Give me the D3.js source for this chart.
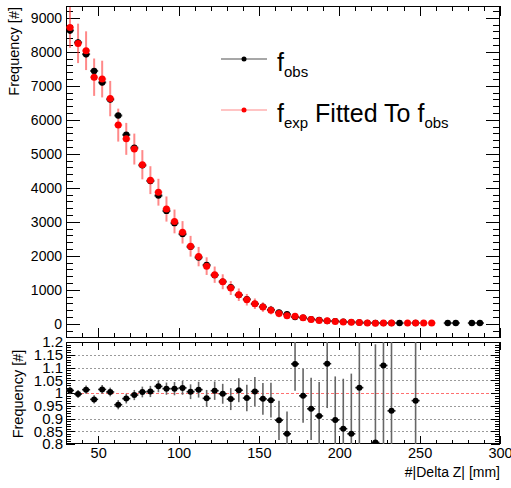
<!DOCTYPE html>
<html>
<head>
<meta charset="utf-8">
<script src="https://d3js.org/d3.v7.min.js"></script>
<style>
  body { margin: 0px; background: #fff; }
  svg { font-family: "Liberation Sans", Arial, Helvetica, sans-serif; }
</style>
</head>
<body>
<svg id="viz" width="511" height="488"></svg>
<script>
// 5 mm bins of |Delta Z|, starting at 30 mm
const binCenters = [32.5, 37.5, 42.5, 47.5, 52.5, 57.5, 62.5, 67.5, 72.5, 77.5,
  82.5, 87.5, 92.5, 97.5, 102.5, 107.5, 112.5, 117.5, 122.5, 127.5,
  132.5, 137.5, 142.5, 147.5, 152.5, 157.5, 162.5, 167.5, 172.5, 177.5,
  182.5, 187.5, 192.5, 197.5, 202.5, 207.5, 212.5, 217.5, 222.5, 227.5,
  232.5, 237.5, 242.5, 247.5, 252.5, 257.5, 262.5, 267.5, 272.5, 277.5,
  282.5, 287.5];

// f_obs (black)
const obs = [8630, 8280, 7930, 7440, 7100, 6600, 6127, 5560, 5180, 4660,
  4200, 3770, 3320, 2960, 2637, 2265, 1950, 1730, 1430, 1240,
  1075, 845, 720, 585, 500, 410, 335, 280, 195, 178,
  135, 108, 79, 77, 57, 48, 36, 26, 21, 18,
  22, 20, null, 21, null, null, null, 20, 20, null,
  20, 20];
const obsErr = [93, 91, 89, 86, 84, 81, 78, 75, 72, 68,
  65, 61, 58, 54, 51, 48, 44, 42, 38, 35,
  33, 29, 27, 24, 22, 20, 18, 17, 14, 13,
  12, 10, 9, 9, 8, 7, 6, 5, 5, 4,
  5, 4, 0, 5, 0, 0, 0, 4, 4, 0,
  4, 4];

// f_exp fitted to f_obs (red)
const expd = [8720, 8250, 8035, 7255, 7200, 6625, 5845, 5440, 5140, 4680,
  4225, 3870, 3375, 3010, 2690, 2280, 1975, 1695, 1443, 1235,
  1050, 853, 706, 588, 490, 400, 300, 235, 217, 176,
  127, 98, 88, 69, 49, 40, 37, 20, 17, 20,
  20, null, 20, 20, 20, 20, null, null, null, null,
  null, null];
const expErr = [600, 580, 570, 550, 540, 520, 485, 470, 455, 430,
  410, 395, 370, 350, 330, 305, 285, 260, 240, 220,
  205, 185, 170, 155, 140, 125, 110, 97, 93, 84,
  71, 62, 59, 52, 44, 40, 38, 28, 26, 28,
  28, 0, 28, 28, 28, 28, 0, 0, 0, 0,
  0, 0];

// lower pad ratio (first 44 bins)
const ratio = [1.010, 0.996, 1.013, 0.975, 1.014, 1.004, 0.954, 0.978, 0.992, 1.004,
  1.006, 1.026, 1.017, 1.017, 1.020, 1.005, 1.013, 0.979, 1.009, 0.997,
  0.976, 1.011, 0.980, 1.006, 0.977, 0.972, 0.893, 0.840, 1.114, 0.989,
  0.938, 0.910, 1.115, 0.894, 0.860, 0.840, 1.021, null, 0.806, 1.108,
  0.930, null, null, 0.970];
const ratioErr = [0.015, 0.016, 0.016, 0.016, 0.017, 0.017, 0.018, 0.019, 0.020, 0.021,
  0.022, 0.023, 0.024, 0.026, 0.027, 0.029, 0.031, 0.033, 0.036, 0.039,
  0.043, 0.047, 0.052, 0.057, 0.062, 0.068, 0.077, 0.087, 0.105, 0.106,
  0.122, 0.133, 0.174, 0.171, 0.196, 0.236, 0.30, 0, 0.385, 0.45,
  0.40, 0, 0, 0.50];

const xTicks = [50, 100, 150, 200, 250, 300];
const yTopTicks = [0, 1000, 2000, 3000, 4000, 5000, 6000, 7000, 8000, 9000];
const yRatioTicks = [0.8, 0.85, 0.9, 0.95, 1, 1.05, 1.1, 1.15, 1.2];
const yRatioGrid = [0.85, 0.9, 0.95, 1.05, 1.1, 1.15];
const halfBin = 2.5;

const svg = d3.select("svg#viz");
const L = 66, R = 500;
const x = d3.scaleLinear().domain([30, 300]).range([L, R]);
const yTop = d3.scaleLinear().domain([-420, 9350]).range([338, 6]);
const yRat = d3.scaleLinear().domain([0.8, 1.2]).range([444, 342]);

const xMinor = d3.range(30, 301, 10);
const yTopMinor = d3.range(-400, 9351, 200);
const yRatMinor = d3.range(80, 121, 1).map((v) => v / 100);

function styleAxis(g, size) {
  g.select(".domain").remove();
  g.attr("font-family", null).attr("font-size", size);
  g.selectAll("line").attr("stroke", "#000");
  g.selectAll("text").attr("fill", "#000");
}

function addAxis(parent, axis, tx, ty, size) {
  return parent.append("g")
    .attr("transform", `translate(${tx},${ty})`)
    .attr("shape-rendering", "crispEdges")
    .call(axis)
    .call((g) => styleAxis(g, size));
}

// ---------- top pad ----------
const topPad = svg.append("g");
svg.append("clipPath").attr("id", "clipTop")
  .append("rect").attr("x", L).attr("y", 6).attr("width", R - L).attr("height", 332);

// y ticks
addAxis(topPad, d3.axisLeft(yTop).tickValues(yTopTicks).tickSize(-14).tickPadding(4).tickFormat(d3.format("d")), L, 0, 14);
addAxis(topPad, d3.axisLeft(yTop).tickValues(yTopMinor).tickSize(-7).tickFormat(""), L, 0, 14);
addAxis(topPad, d3.axisRight(yTop).tickValues(yTopTicks).tickSize(-14).tickFormat(""), R, 0, 14);
addAxis(topPad, d3.axisRight(yTop).tickValues(yTopMinor).tickSize(-7).tickFormat(""), R, 0, 14);
// x ticks
addAxis(topPad, d3.axisBottom(x).tickValues(xTicks).tickSize(-10).tickFormat(""), 0, 338, 14);
addAxis(topPad, d3.axisBottom(x).tickValues(xMinor).tickSize(-5).tickFormat(""), 0, 338, 14);
addAxis(topPad, d3.axisTop(x).tickValues(xTicks).tickSize(-10).tickFormat(""), 0, 6, 14);
addAxis(topPad, d3.axisTop(x).tickValues(xMinor).tickSize(-5).tickFormat(""), 0, 6, 14);

topPad.append("rect")
  .attr("x", L + 0.5).attr("y", 6.5).attr("width", R - L - 1).attr("height", 331)
  .attr("fill", "none").attr("stroke", "#000").attr("stroke-width", 1);

const topData = binCenters.map((c, i) => ({
  c, o: obs[i], oe: obsErr[i], e: expd[i], ee: expErr[i]
}));
const obsPts = topData.filter((d) => d.o !== null);
const expPts = topData.filter((d) => d.e !== null);

const marks = topPad.append("g").attr("clip-path", "url(#clipTop)");

// red error bars
marks.append("g").selectAll("line").data(expPts).join("line")
  .attr("x1", (d) => x(d.c)).attr("x2", (d) => x(d.c))
  .attr("y1", (d) => yTop(d.e + d.ee)).attr("y2", (d) => yTop(d.e - d.ee))
  .attr("stroke", "rgba(255,40,40,0.55)").attr("stroke-width", 2);
marks.append("g").selectAll("line").data(expPts).join("line")
  .attr("x1", (d) => x(d.c - halfBin)).attr("x2", (d) => x(d.c + halfBin))
  .attr("y1", (d) => yTop(d.e)).attr("y2", (d) => yTop(d.e))
  .attr("stroke", "rgba(255,40,40,0.45)").attr("stroke-width", 2);

// black error bars
marks.append("g").selectAll("line").data(obsPts).join("line")
  .attr("x1", (d) => x(d.c - halfBin)).attr("x2", (d) => x(d.c + halfBin))
  .attr("y1", (d) => yTop(d.o)).attr("y2", (d) => yTop(d.o))
  .attr("stroke", "rgba(0,0,0,0.7)").attr("stroke-width", 2);
marks.append("g").selectAll("line").data(obsPts).join("line")
  .attr("x1", (d) => x(d.c)).attr("x2", (d) => x(d.c))
  .attr("y1", (d) => yTop(d.o + d.oe)).attr("y2", (d) => yTop(d.o - d.oe))
  .attr("stroke", "rgba(0,0,0,0.7)").attr("stroke-width", 2);

// markers
marks.append("g").selectAll("circle").data(obsPts).join("circle")
  .attr("cx", (d) => x(d.c)).attr("cy", (d) => yTop(d.o)).attr("r", 3.2)
  .attr("fill", "#000");
marks.append("g").selectAll("circle").data(expPts).join("circle")
  .attr("cx", (d) => x(d.c)).attr("cy", (d) => yTop(d.e)).attr("r", 3.5)
  .attr("fill", "#ff0000");

// y title
topPad.append("text")
  .attr("transform", "translate(19,7) rotate(-90)")
  .attr("text-anchor", "end").attr("font-size", 14.5)
  .text("Frequency [#]");

// legend
const leg = topPad.append("g");
const legRows = [
  { y: 59, line: "#8a8a8a", dot: "#000", main: "f", sub: "obs", rest: null },
  { y: 110, line: "#ffb0b0", dot: "#ff0000", main: "f", sub: "exp", rest: " Fitted To f", sub2: "obs" }
];
legRows.forEach((r) => {
  leg.append("line").attr("x1", 221).attr("x2", 267).attr("y1", r.y).attr("y2", r.y)
    .attr("stroke", r.line).attr("stroke-width", 1.5);
  leg.append("circle").attr("cx", 244).attr("cy", r.y).attr("r", 2.5).attr("fill", r.dot);
  const t = leg.append("text").attr("x", 277).attr("y", r.y + 11.5).attr("font-size", 25);
  t.append("tspan").text(r.main);
  t.append("tspan").attr("dy", 6.5).attr("font-size", 15).text(r.sub);
  if (r.rest) {
    t.append("tspan").attr("dy", -6.5).text(r.rest);
    t.append("tspan").attr("dy", 6.5).attr("font-size", 15).text(r.sub2);
  }
});

// ---------- bottom pad ----------
const botPad = svg.append("g");
svg.append("clipPath").attr("id", "clipBot")
  .append("rect").attr("x", L).attr("y", 342).attr("width", R - L).attr("height", 102);

// grid
botPad.append("g").selectAll("line").data(yRatioGrid).join("line")
  .attr("x1", L).attr("x2", R)
  .attr("y1", (d) => Math.round(yRat(d)) + 0.5).attr("y2", (d) => Math.round(yRat(d)) + 0.5)
  .attr("stroke", "#9a9a9a").attr("stroke-width", 1).attr("stroke-dasharray", "2,2");
botPad.append("line")
  .attr("x1", L).attr("x2", R)
  .attr("y1", Math.round(yRat(1)) + 0.5).attr("y2", Math.round(yRat(1)) + 0.5)
  .attr("stroke", "#ff7070").attr("stroke-width", 1.2).attr("stroke-dasharray", "3,2");

addAxis(botPad, d3.axisLeft(yRat).tickValues(yRatioTicks).tickSize(-9).tickPadding(3)
  .tickFormat((d) => String(+d.toFixed(2))), L, 0, 15);
addAxis(botPad, d3.axisLeft(yRat).tickValues(yRatMinor).tickSize(-5).tickFormat(""), L, 0, 13);
addAxis(botPad, d3.axisRight(yRat).tickValues(yRatioTicks).tickSize(-9).tickFormat(""), R, 0, 13);
addAxis(botPad, d3.axisRight(yRat).tickValues(yRatMinor).tickSize(-5).tickFormat(""), R, 0, 13);
addAxis(botPad, d3.axisBottom(x).tickValues(xTicks).tickSize(-8).tickPadding(4).tickFormat(d3.format("d")), 0, 444, 14.5);
addAxis(botPad, d3.axisBottom(x).tickValues(xMinor).tickSize(-4).tickFormat(""), 0, 444, 14);
addAxis(botPad, d3.axisTop(x).tickValues(xTicks).tickSize(-8).tickFormat(""), 0, 342, 14);
addAxis(botPad, d3.axisTop(x).tickValues(xMinor).tickSize(-4).tickFormat(""), 0, 342, 14);

botPad.append("rect")
  .attr("x", L + 0.5).attr("y", 342.5).attr("width", R - L - 1).attr("height", 101)
  .attr("fill", "none").attr("stroke", "#000").attr("stroke-width", 1);

const ratPts = ratio.map((v, i) => ({ c: binCenters[i], v, e: ratioErr[i] }))
  .filter((d) => d.v !== null);
const rm = botPad.append("g").attr("clip-path", "url(#clipBot)");
rm.append("g").selectAll("line").data(ratPts).join("line")
  .attr("x1", (d) => x(d.c)).attr("x2", (d) => x(d.c))
  .attr("y1", (d) => yRat(d.v + d.e)).attr("y2", (d) => yRat(d.v - d.e))
  .attr("stroke", "#666").attr("stroke-width", 1.6);
rm.append("g").selectAll("line").data(ratPts).join("line")
  .attr("x1", (d) => x(d.c - halfBin)).attr("x2", (d) => x(d.c + halfBin))
  .attr("y1", (d) => yRat(d.v)).attr("y2", (d) => yRat(d.v))
  .attr("stroke", "#222").attr("stroke-width", 1.6);
rm.append("g").selectAll("circle").data(ratPts).join("circle")
  .attr("cx", (d) => x(d.c)).attr("cy", (d) => yRat(d.v)).attr("r", 3)
  .attr("fill", "#000");

botPad.append("text")
  .attr("transform", "translate(23,394) rotate(-90)")
  .attr("text-anchor", "middle").attr("font-size", 14.5)
  .text("Frequency [#]");

botPad.append("text")
  .attr("x", 500).attr("y", 477)
  .attr("text-anchor", "end").attr("font-size", 14)
  .text("#|Delta Z| [mm]");
</script>
</body>
</html>
